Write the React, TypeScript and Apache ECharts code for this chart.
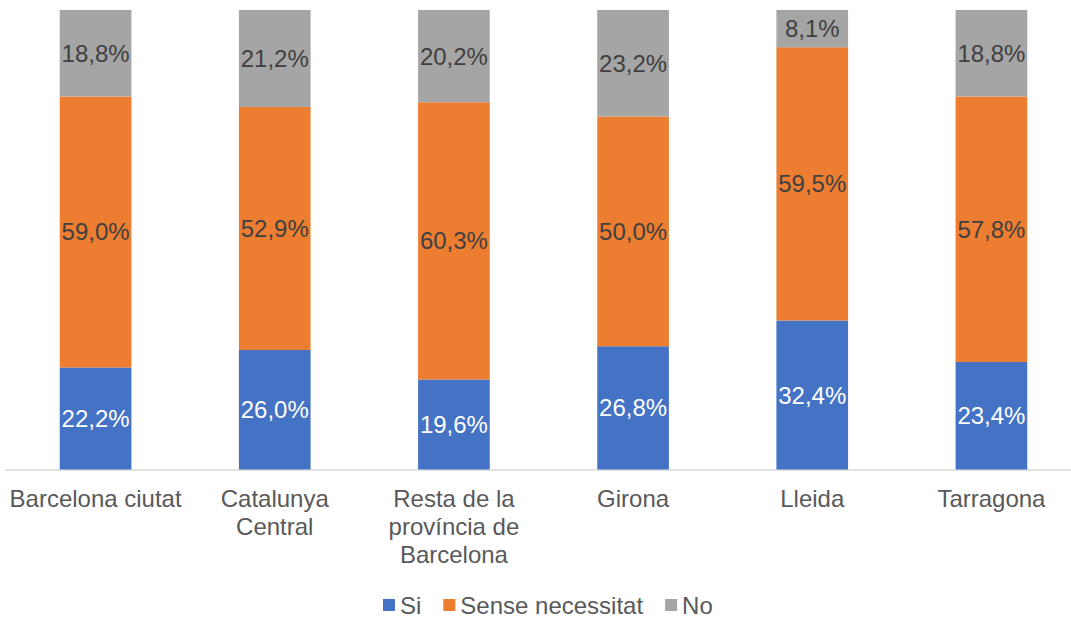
import React, { useEffect, useRef } from "react";
import * as echarts from "echarts";

const categories = [
  "Barcelona ciutat",
  "Catalunya\nCentral",
  "Resta de la\nprovíncia de\nBarcelona",
  "Girona",
  "Lleida",
  "Tarragona",
];
const si = [22.2, 26.0, 19.6, 26.8, 32.4, 23.4];
const senseNecessitat = [59.0, 52.9, 60.3, 50.0, 59.5, 57.8];
const no = [18.8, 21.2, 20.2, 23.2, 8.1, 18.8];

const FONT = "'Liberation Sans', Arial, sans-serif";
const fmt = (p: any) => Number(p.value).toFixed(1).replace(".", ",") + "%";

export default function App() {
  const ref = useRef<HTMLDivElement>(null);
  useEffect(() => {
    if (!ref.current) return;
    const chart = echarts.init(ref.current, undefined, { renderer: "svg" });
    const mk = (name: string, data: number[], color: string, labelColor: string) => ({
      name,
      type: "bar",
      stack: "total",
      data,
      barWidth: "40%",
      itemStyle: { color },
      label: {
        show: true,
        position: "inside",
        formatter: fmt,
        color: labelColor,
        fontSize: 24,
        fontFamily: FONT,
      },
    });
    chart.setOption({
      animation: false,
      textStyle: { fontFamily: FONT },
      grid: { left: 6, right: 0, top: 10, bottom: 149.5, containLabel: false },
      legend: {
        bottom: 2,
        left: 383,
        padding: 0,
        itemWidth: 12,
        itemHeight: 12,
        itemGap: 22,
        icon: "rect",
        textStyle: { fontSize: 24, color: "#595959", fontFamily: FONT },
        data: ["Si", "Sense necessitat", "No"],
      },
      xAxis: {
        type: "category",
        data: categories,
        axisLine: { lineStyle: { color: "#D9D9D9", width: 1.5 } },
        axisTick: { show: false },
        axisLabel: {
          interval: 0,
          fontSize: 24,
          color: "#595959",
          lineHeight: 28,
          margin: 15,
          fontFamily: FONT,
        },
      },
      yAxis: {
        type: "value",
        min: 0,
        max: 100,
        show: false,
        splitLine: { show: false },
      },
      series: [
        mk("Si", si, "#4472C4", "#FFFFFF"),
        mk("Sense necessitat", senseNecessitat, "#ED7D31", "#404040"),
        mk("No", no, "#A5A5A5", "#404040"),
      ],
    });
    return () => chart.dispose();
  }, []);
  return (
    <div
      style={{ position: "fixed", left: 0, top: 0, width: 1071, height: 619, overflow: "hidden", background: "#fff" }}
    >
      <div ref={ref} style={{ width: 1081, height: 619 }} />
    </div>
  );
}
